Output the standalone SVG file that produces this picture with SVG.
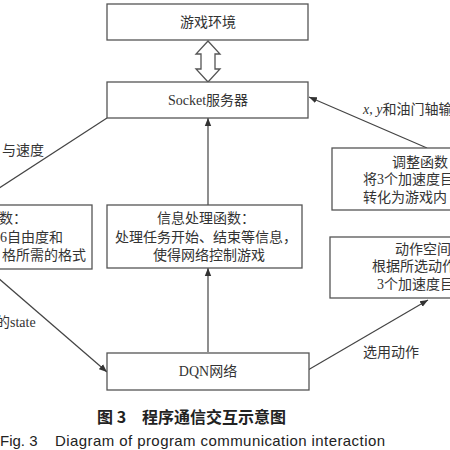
<svg xmlns="http://www.w3.org/2000/svg" width="450" height="450" viewBox="0 0 450 450">
<defs>
<marker id="ah" viewBox="0 0 10 10" refX="10" refY="5" markerWidth="8" markerHeight="8" markerUnits="userSpaceOnUse" orient="auto">
<path d="M0,1 L10,5 L0,9 Z" fill="#333"/>
</marker>
<style>
.box{fill:#fff;stroke:#555;stroke-width:1.3}
.t{font-family:"Liberation Serif","Noto Sans CJK SC",serif;font-size:14px;fill:#333}
.c{text-anchor:middle}
.ln{stroke:#444;stroke-width:1.2;fill:none}
.cap{font-family:"Noto Sans CJK SC",sans-serif;font-size:16px;font-weight:bold;fill:#222}
.en{font-family:"Liberation Sans",Arial,sans-serif;font-size:15px;fill:#222}
</style>
</defs>
<rect width="450" height="450" fill="#fff"/>
<g id="connectors">
<line class="ln" x1="107" y1="118" x2="-10" y2="194"/>
<line class="ln" x1="-10" y1="271" x2="107" y2="372" marker-end="url(#ah)"/>
<line class="ln" x1="208" y1="352" x2="208" y2="268" marker-end="url(#ah)"/>
<line class="ln" x1="208" y1="205" x2="208" y2="118" marker-end="url(#ah)"/>
<line class="ln" x1="427" y1="148" x2="309" y2="97" marker-end="url(#ah)"/>
<line class="ln" x1="308" y1="370" x2="428" y2="300" marker-end="url(#ah)"/>
<path d="M208,41 L220,54 L215,54 L215,69 L220,69 L208,82 L196,69 L201,69 L201,54 L196,54 Z" fill="#fff" stroke="#555" stroke-width="1.3"/>
<text class="t" x="2" y="155">与速度</text>
<text class="t" x="-4" y="327">的state</text>
<text class="t" x="363" y="114"><tspan font-style="italic">x</tspan>, <tspan font-style="italic">y</tspan>和油门轴输</text>
<text class="t" x="363" y="357">选用动作</text>
</g>
<g id="game-env">
<rect class="box" x="107" y="4" width="201" height="36"/>
<text class="t c" x="208" y="27">游戏环境</text>
</g>
<g id="socket">
<rect class="box" x="107" y="82" width="201" height="36"/>
<text class="t c" x="208" y="105">Socket服务器</text>
</g>
<g id="state-func">
<rect class="box" x="-110" y="205" width="202" height="64"/>
<text class="t" x="-1" y="223">数：</text>
<text class="t" x="-14" y="242">的6自由度和</text>
<text class="t" x="2" y="260">格所需的格式</text>
</g>
<g id="info-func">
<rect class="box" x="107" y="205" width="195" height="63"/>
<text class="t c" x="206" y="223">信息处理函数：</text>
<text class="t c" x="206" y="242">处理任务开始、结束等信息，</text>
<text class="t c" x="209" y="260">使得网络控制游戏</text>
</g>
<g id="adjust-func">
<rect class="box" x="332" y="148" width="230" height="62"/>
<text class="t" x="392" y="167">调整函数：</text>
<text class="t" x="363" y="183.5">将3个加速度目标</text>
<text class="t" x="363" y="201.5">转化为游戏内</text>
</g>
<g id="action-space">
<rect class="box" x="330" y="237" width="230" height="61"/>
<text class="t" x="395" y="254">动作空间：</text>
<text class="t" x="372" y="270.5">根据所选动作</text>
<text class="t" x="377" y="289">3个加速度目</text>
</g>
<g id="dqn">
<rect class="box" x="107" y="353" width="202" height="37"/>
<text class="t c" x="208" y="376">DQN网络</text>
</g>
<g id="caption">
<text class="cap" x="97" y="423">图 3</text>
<text class="cap" x="142" y="423">程序通信交互示意图</text>
<text class="en" x="0" y="446">Fig. 3</text>
<text class="en" x="55" y="446" textLength="330">Diagram of program communication interaction</text>
</g>
</svg>
